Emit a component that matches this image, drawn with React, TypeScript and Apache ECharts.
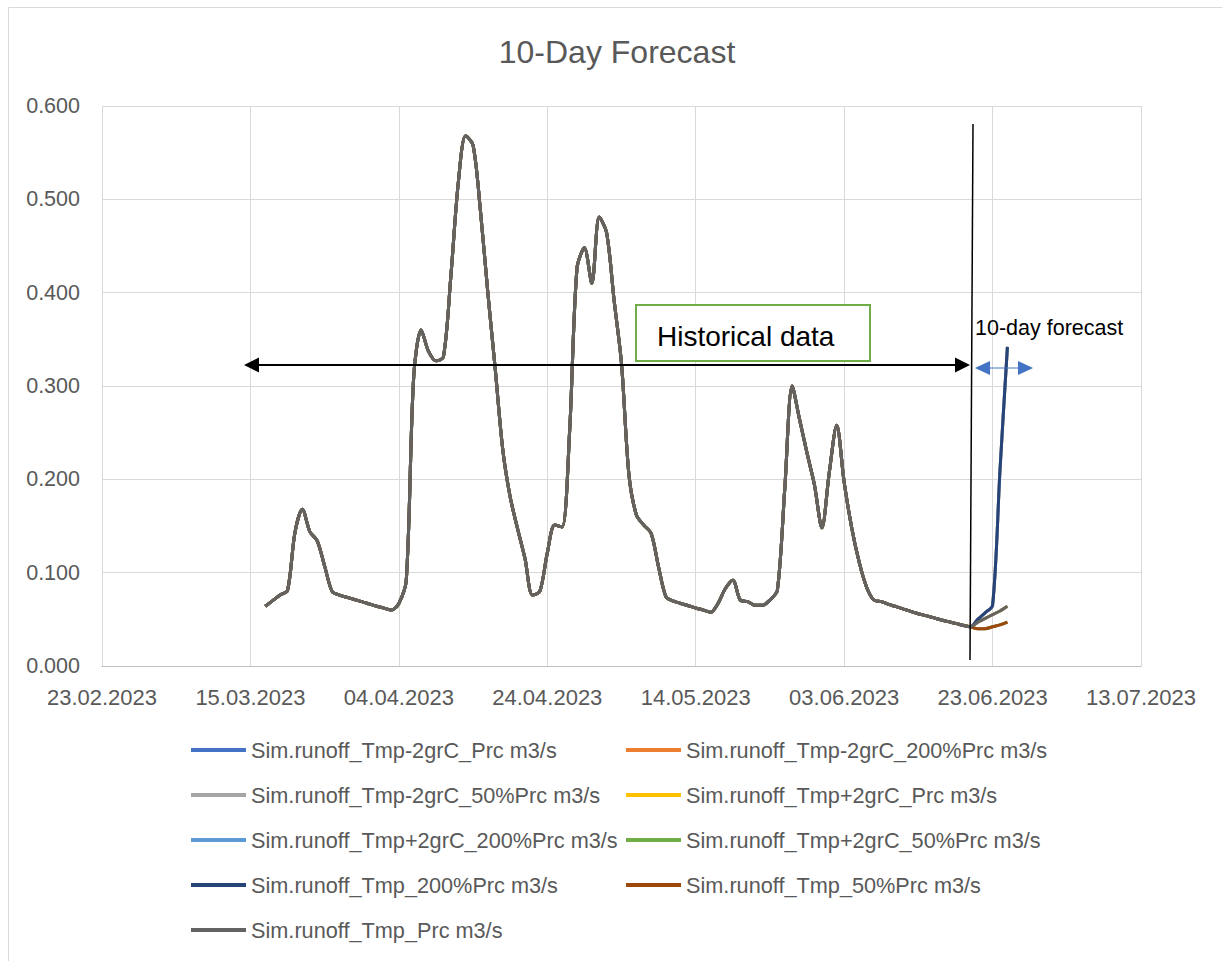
import React, { useEffect, useRef } from "react";
import * as echarts from "echarts";

// ---- data ----
const AXIS_START = "2023-02-23";
const AXIS_END = "2023-07-13";
const X_TICK_DAYS = 20;
const HIST_START = "2023-03-17";
const FORECAST_START = "2023-06-20";
const Y_MAX = 0.6;
const Y_STEP = 0.1;

// daily simulated runoff (m3/s), 17.03.2023 .. 20.06.2023
const histValues = [
  0.064, 0.07, 0.076, 0.081, 0.143, 0.168, 0.144, 0.134, 0.107, 0.08,
  0.076, 0.0736, 0.0713, 0.069, 0.0665, 0.064, 0.062, 0.06, 0.067, 0.092,
  0.31, 0.36, 0.337, 0.327, 0.331, 0.417, 0.517, 0.568, 0.558, 0.487,
  0.399, 0.317, 0.232, 0.181, 0.147, 0.115, 0.076, 0.08, 0.121, 0.151,
  0.149, 0.25, 0.426, 0.448, 0.41, 0.481, 0.464, 0.392, 0.324, 0.205,
  0.162, 0.151, 0.142, 0.106, 0.074, 0.0696, 0.067, 0.0646, 0.0621, 0.06,
  0.0575, 0.067, 0.083, 0.092, 0.0707, 0.069, 0.065, 0.065, 0.0707, 0.081,
  0.19, 0.3, 0.264, 0.228, 0.194, 0.148, 0.2075, 0.258, 0.197, 0.149,
  0.112, 0.085, 0.0707, 0.069, 0.066, 0.0636, 0.061, 0.0586, 0.056, 0.054,
  0.0518, 0.0496, 0.0475, 0.0457, 0.0436, 0.042,
];

// forecast, daily from 20.06.2023
const forecastPrc = [0.042, 0.047, 0.051, 0.055, 0.059, 0.064];
const forecast200 = [0.042, 0.05, 0.057, 0.065, 0.21, 0.342];
const forecast50 = [0.042, 0.04, 0.04, 0.042, 0.044, 0.047];

const seriesNames = [
  "Sim.runoff_Tmp-2grC_Prc m3/s",
  "Sim.runoff_Tmp-2grC_200%Prc m3/s",
  "Sim.runoff_Tmp-2grC_50%Prc m3/s",
  "Sim.runoff_Tmp+2grC_Prc m3/s",
  "Sim.runoff_Tmp+2grC_200%Prc m3/s",
  "Sim.runoff_Tmp+2grC_50%Prc m3/s",
  "Sim.runoff_Tmp_200%Prc m3/s",
  "Sim.runoff_Tmp_50%Prc m3/s",
  "Sim.runoff_Tmp_Prc m3/s",
];
const seriesColors = [
  "#4472C4", "#ED7D31", "#A5A5A5", "#FFC000", "#5B9BD5",
  "#70AD47", "#264478", "#9E480E", "#636363",
];
const seriesForecastKind = ["prc", "200", "50", "prc", "200", "50", "200", "50", "prc"];

const FONT = "Liberation Sans";
const TEXT_GREY = "#595959";

const DAY_MS = 86400000;
const dayOf = (iso: string) => (Date.parse(iso) - Date.parse(AXIS_START)) / DAY_MS;
const fmtDate = (day: number) => {
  const d = new Date(Date.parse(AXIS_START) + Math.round(day) * DAY_MS);
  const dd = String(d.getUTCDate()).padStart(2, "0");
  const mm = String(d.getUTCMonth() + 1).padStart(2, "0");
  return `${dd}.${mm}.${d.getUTCFullYear()}`;
};

function buildSeriesData(kind: string) {
  const h0 = dayOf(HIST_START);
  const f0 = dayOf(FORECAST_START);
  const pts: number[][] = histValues.map((v, i) => [h0 + i, v]);
  const fc = kind === "200" ? forecast200 : kind === "50" ? forecast50 : forecastPrc;
  fc.forEach((v, i) => {
    if (i > 0) pts.push([f0 + i, v]);
  });
  return pts;
}

export default function App() {
  const ref = useRef<HTMLDivElement>(null);
  useEffect(() => {
    document.body.style.margin = "0";
    if (!ref.current) return;
    const chart = echarts.init(ref.current, undefined, { renderer: "svg" });
    const series = seriesNames.map((name, i) => ({
      name,
      type: "line",
      data: buildSeriesData(seriesForecastKind[i]),
      smooth: 0.3,
      showSymbol: false,
      symbol: "none",
      color: seriesColors[i],
      lineStyle: { width: 3, color: seriesColors[i] },
    }));
    const legendCommon = {
      orient: "vertical",
      top: 734,
      icon: "rect",
      itemWidth: 55,
      itemHeight: 4,
      itemGap: 23,
      textStyle: { fontFamily: FONT, fontSize: 21.7, color: TEXT_GREY, lineHeight: 22 },
      selectedMode: false,
    };
    chart.setOption({
      animation: false,
      backgroundColor: "#ffffff",
      grid: { left: 102, right: 81, top: 106, bottom: 295, containLabel: false },
      xAxis: {
        type: "value",
        min: 0,
        max: dayOf(AXIS_END),
        interval: X_TICK_DAYS,
        axisLine: { show: true, lineStyle: { color: "#BFBFBF", width: 1 } },
        axisTick: { show: false },
        splitLine: { show: true, lineStyle: { color: "#D9D9D9", width: 1 } },
        axisLabel: {
          formatter: (v: number) => fmtDate(v),
          fontFamily: FONT,
          fontSize: 22,
          color: TEXT_GREY,
          margin: 20,
        },
      },
      yAxis: {
        type: "value",
        min: 0,
        max: Y_MAX,
        interval: Y_STEP,
        axisLine: { show: false },
        axisTick: { show: false },
        splitLine: { show: true, lineStyle: { color: "#D9D9D9", width: 1 } },
        axisLabel: {
          formatter: (v: number) => v.toFixed(3),
          fontFamily: FONT,
          fontSize: 21.5,
          color: TEXT_GREY,
          margin: 22,
        },
      },
      legend: [
        { ...legendCommon, left: 186, data: [seriesNames[0], seriesNames[2], seriesNames[4], seriesNames[6], seriesNames[8]] },
        { ...legendCommon, left: 621, data: [seriesNames[1], seriesNames[3], seriesNames[5], seriesNames[7]] },
      ],
      series,
      graphic: [
        {
          type: "rect",
          silent: true,
          z: 0,
          shape: { x: 8.5, y: 7.5, width: 1400, height: 1100 },
          style: { fill: "none", stroke: "#D9D9D9", lineWidth: 1 },
        },
        {
          type: "text",
          x: 617,
          y: 52,
          style: {
            text: "10-Day Forecast",
            fontFamily: FONT,
            fontSize: 32,
            fill: TEXT_GREY,
            align: "center",
            verticalAlign: "middle",
          },
        },
        // vertical separator
        {
          type: "line",
          z: 100,
          shape: { x1: 973, y1: 124, x2: 970, y2: 660 },
          style: { stroke: "#000000", lineWidth: 1.5 },
        },
        // historical arrow
        {
          type: "line",
          z: 100,
          shape: { x1: 256, y1: 365, x2: 958, y2: 365 },
          style: { stroke: "#000000", lineWidth: 2 },
        },
        {
          type: "polygon",
          z: 100,
          shape: { points: [[244, 365], [259, 357.5], [259, 372.5]] },
          style: { fill: "#000000" },
        },
        {
          type: "polygon",
          z: 100,
          shape: { points: [[970, 365], [955, 357.5], [955, 372.5]] },
          style: { fill: "#000000" },
        },
        // historical data box
        {
          type: "rect",
          z: 100,
          shape: { x: 636, y: 305, width: 234, height: 56 },
          style: { fill: "#ffffff", stroke: "#70AD47", lineWidth: 2 },
        },
        {
          type: "text",
          z: 101,
          x: 657,
          y: 336,
          style: {
            text: "Historical data",
            fontFamily: FONT,
            fontSize: 28,
            fill: "#000000",
            align: "left",
            verticalAlign: "middle",
          },
        },
        // forecast arrow
        {
          type: "line",
          z: 100,
          shape: { x1: 988, y1: 368, x2: 1019, y2: 368 },
          style: { stroke: "#4472C4", lineWidth: 1 },
        },
        {
          type: "polygon",
          z: 100,
          shape: { points: [[975, 368], [990, 361], [990, 375]] },
          style: { fill: "#4472C4" },
        },
        {
          type: "polygon",
          z: 100,
          shape: { points: [[1033, 368], [1018, 361], [1018, 375]] },
          style: { fill: "#4472C4" },
        },
        {
          type: "text",
          z: 101,
          x: 975,
          y: 328,
          style: {
            text: "10-day forecast",
            fontFamily: FONT,
            fontSize: 21.5,
            fill: "#000000",
            align: "left",
            verticalAlign: "middle",
          },
        },
      ],
    });
    return () => chart.dispose();
  }, []);
  return <div ref={ref} style={{ width: 1222, height: 961 }} />;
}
